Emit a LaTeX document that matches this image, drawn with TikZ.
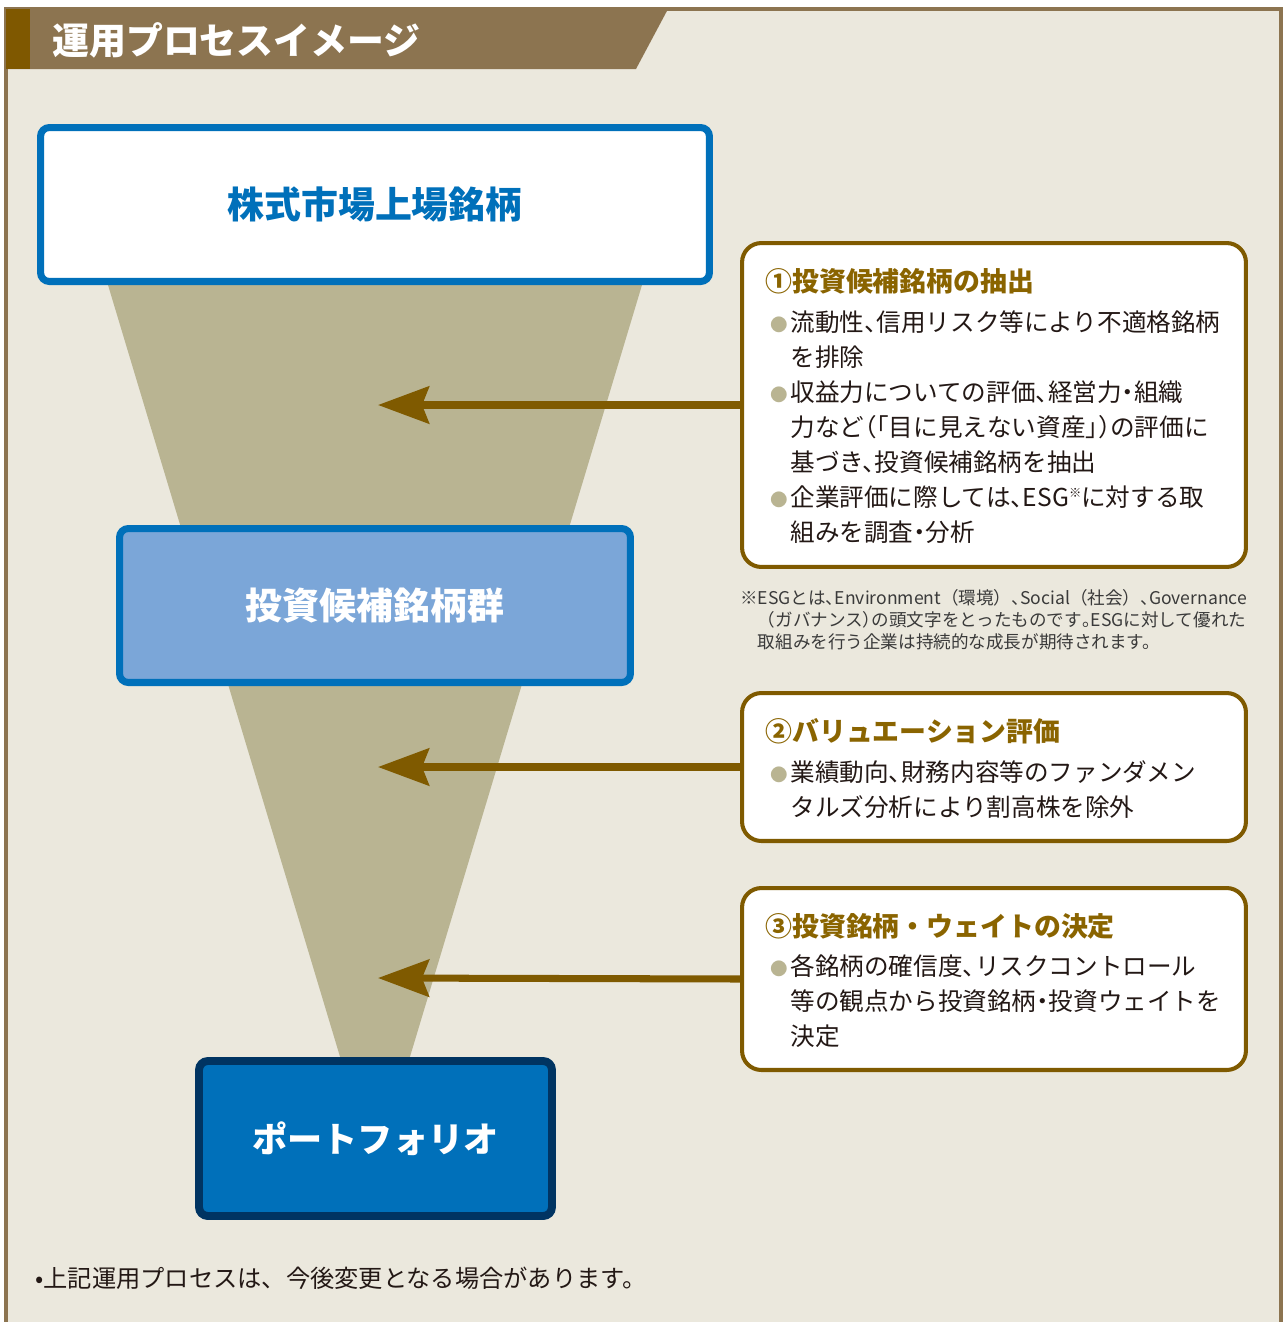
\documentclass[tikz,border=0pt]{standalone}
\usepackage{fontspec}
\usepackage{xcolor}
\usepackage{tikz}
\usetikzlibrary{arrows.meta}
\setmainfont{Noto Sans CJK JP}

\definecolor{paper}{HTML}{EBE8DD}
\definecolor{framebrown}{HTML}{8C7450}
\definecolor{stripbrown}{HTML}{7F5800}
\definecolor{funnel}{HTML}{B9B492}
\definecolor{marketblue}{HTML}{0070BA}
\definecolor{poolblue}{HTML}{7BA6D8}
\definecolor{navy}{HTML}{003462}
\definecolor{stepbrown}{HTML}{7F5A00}
\definecolor{titlebrown}{HTML}{8A6400}
\definecolor{ink}{HTML}{231815}
\definecolor{notegray}{HTML}{3A3A3A}

\newcommand\dotmark{\makebox[0.82em][l]{\textcolor{funnel}{\fontsize{10pt}{10pt}\selectfont ●}}}
\newcommand\dotskip{\hspace*{0.82em}}
\newcommand\refmark{\raisebox{0.35em}{\fontsize{7pt}{7pt}\selectfont ※}}
\newcommand\halfp[1]{{\addfontfeature{RawFeature=+halt}#1}}

\begin{document}
\begin{tikzpicture}[x=0.02cm,y=-0.02cm,
        stage box/.style={rounded corners=5pt,line width=4pt,inner sep=0pt,
          font=\bfseries\fontsize{21pt}{24pt}\selectfont},
        check box/.style={draw=stepbrown,line width=2.3pt,rounded corners=11pt,
          fill=white,minimum width=10.08cm},
        check title/.style={anchor=west,inner sep=0pt,text=titlebrown,
          font=\bfseries\fontsize{15.3pt}{18pt}\selectfont},
        check text/.style={anchor=north west,inner sep=0pt,align=left,text=ink,
          font=\addfontfeature{RawFeature=+halt}\fontsize{14pt}{19.95pt}\selectfont},
        back arrow/.style={draw=stepbrown,line width=4pt,
          -{Stealth[length=1.02cm,width=0.74cm,inset=0.14cm]}}
      ]
      \useasboundingbox (0,0) rectangle (1283,1322);
      % frame and heading
      \fill[white] (0,0) rectangle (1283,1322);
      \fill[paper] (6,9) rectangle (1281,1322);
      \draw[framebrown,line width=2pt] (6,1322) -- (6,9) -- (1281,9) -- (1281,1322);
      \fill[framebrown] (6,9) -- (668,9) -- (636,69) -- (6,69) -- cycle;
      \fill[stripbrown] (6,9) rectangle (30,69);
      \node[anchor=west,inner sep=0pt,text=white,
        font=\bfseries\fontsize{21pt}{24pt}\selectfont] (heading) at (52,40) {運用プロセスイメージ};

      % funnel
      \fill[funnel] (103.5,270) -- (646.5,270) -- (406,1070) -- (344,1070) -- cycle;

      % stages
      \node[stage box,draw=marketblue,fill=white,text=marketblue,
        minimum width=13.38cm,minimum height=3.08cm] (market) at (375,204.5) {株式市場上場銘柄};
      \node[stage box,draw=marketblue,fill=poolblue,text=white,
        minimum width=10.22cm,minimum height=3.08cm] (pool) at (375,605.5) {投資候補銘柄群};
      \node[stage box,draw=navy,fill=marketblue,text=white,line width=4.5pt,
        font=\bfseries\fontsize{20pt}{24pt}\selectfont,
        minimum width=7.06cm,minimum height=3.1cm] (portfolio) at (375.5,1138.5) {ポートフォリオ};

      % screening steps
      \node[check box,minimum height=6.48cm] (extract) at (994,405) {};
      \node[check box,minimum height=2.96cm] (valuation) at (994,767) {};
      \node[check box,minimum height=3.64cm] (decision) at (994,979) {};

      \node[check title] (extract title) at (765,281) {①投資候補銘柄の抽出};
      \node[check text] (extract text) at (770,310) {\dotmark 流動性、信用リスク等により不適格銘柄\\
        \dotskip を排除\\
        \dotmark 収益力についての評価、経営力・組織\\
        \dotskip 力など（「目に見えない資産」）の評価に\\
        \dotskip 基づき、投資候補銘柄を抽出\\
        \dotmark 企業評価に際しては、ESG\refmark に対する取\\
        \dotskip 組みを調査・分析};

      \node[check title] (valuation title) at (765,731) {②バリュエーション評価};
      \node[check text] (valuation text) at (770,760) {\dotmark 業績動向、財務内容等のファンダメン\\
        \dotskip タルズ分析により割高株を除外};

      \node[check title] (decision title) at (765,926) {③投資銘柄・ウェイトの決定};
      \node[check text] (decision text) at (770,954) {\dotmark 各銘柄の確信度、リスクコントロール\\
        \dotskip 等の観点から投資銘柄・投資ウェイトを\\
        \dotskip 決定};

      % footnotes
      \node[anchor=north west,inner sep=0pt,align=left,text=notegray,
        font=\fontsize{10pt}{12.5pt}\selectfont] (esg note) at (740,589)
        {※ESGとは\halfp{、}Environment（環境）\halfp{、}Social（社会）\halfp{、}Governance\\
        \phantom{※}（ガバナンス\halfp{）}の頭文字をとったものです\halfp{。}ESGに対して優れた\\
        \phantom{※}取組みを行う企業は持続的な成長が期待されます。};
      \node[anchor=west,inner sep=0pt,text=ink,
        font=\fontsize{13.8pt}{16pt}\selectfont] (change note) at (35,1278)
        {•上記運用プロセスは、今後変更となる場合があります。};

      % arrows into the funnel
      \coordinate (tip1) at (378,405);
      \coordinate (tip2) at (378,767);
      \coordinate (tip3) at (378,978);
      \draw[back arrow] (extract.west) -- (tip1);
      \draw[back arrow] (valuation.west) -- (tip2);
      \draw[back arrow] (decision.west) -- (tip3);
    \end{tikzpicture}
\end{document}
